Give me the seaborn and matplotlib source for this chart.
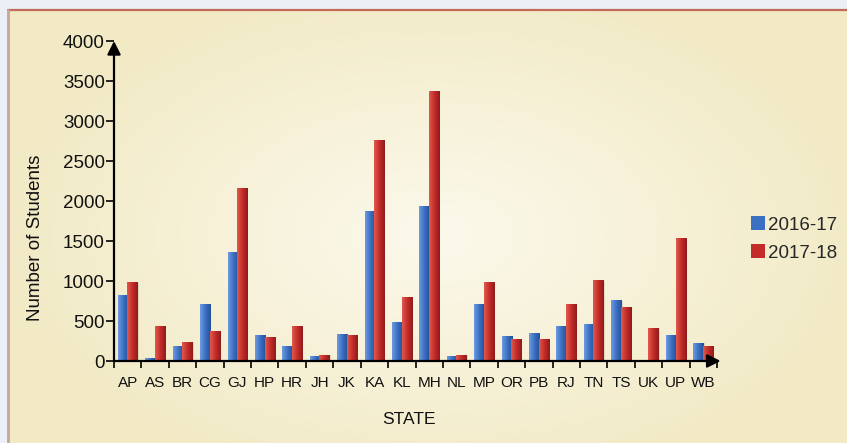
import numpy as np
import pandas as pd
import matplotlib
matplotlib.use("Agg")
import matplotlib.pyplot as plt
from matplotlib.colors import LinearSegmentedColormap
from matplotlib.patches import Patch, Rectangle
import seaborn as sns

# Students per state, two academic years
states = ["AP", "AS", "BR", "CG", "GJ", "HP", "HR", "JH", "JK", "KA", "KL",
          "MH", "NL", "MP", "OR", "PB", "RJ", "TN", "TS", "UK", "UP", "WB"]
students_2016_17 = [825, 35, 190, 710, 1360, 325, 190, 60, 340, 1870, 485,
                    1935, 60, 710, 310, 350, 440, 460, 760, 0, 325, 225]
students_2017_18 = [990, 440, 240, 375, 2160, 300, 440, 75, 325, 2760, 800,
                    3375, 75, 990, 275, 275, 710, 1010, 670, 410, 1535, 190]
years = ["2016-17", "2017-18"]
y_ticks = [0, 500, 1000, 1500, 2000, 2500, 3000, 3500, 4000]

df = pd.DataFrame({
    "STATE": states * 2,
    "Year": [years[0]] * len(states) + [years[1]] * len(states),
    "Students": students_2016_17 + students_2017_18,
})

sns.set_theme(style="white")
plt.rcParams["font.family"] = ["Liberation Sans", "DejaVu Sans"]

W, H = 847, 443
fig = plt.figure(figsize=(W / 100, H / 100), dpi=100)
fig.patch.set_facecolor("#eaf0f6")

# Cream panel with a soft radial glow
bg = fig.add_axes([0, 0, 1, 1], zorder=0)
bg.set_xlim(0, W)
bg.set_ylim(H, 0)
bg.axis("off")
yy, xx = np.mgrid[0:H, 0:W]
r = np.sqrt(((xx - 430) / 430.0) ** 2 + ((yy - 230) / 260.0) ** 2)
r = np.clip(r, 0, 1)
c_in = np.array([0.988, 0.976, 0.925])
c_out = np.array([0.949, 0.918, 0.776])
img = c_in[None, None, :] * (1 - r[..., None]) + c_out[None, None, :] * r[..., None]
bg.imshow(img, extent=(8, W, H, 10), aspect="auto", zorder=0)
bg.plot([8, W], [10, 10], color="#c46a58", lw=1.6, zorder=2)
bg.plot([8, 8], [10, H], color="#c9a49c", lw=2.0, zorder=2)

# Main bar axes
ax = fig.add_axes([114 / W, (H - 361) / H, 603 / W, 320 / H], zorder=1)
ax.patch.set_alpha(0)
palette = {years[0]: "#3b6fc2", years[1]: "#c42c2a"}
sns.barplot(data=df, x="STATE", y="Students", hue="Year", palette=palette,
            width=0.70, gap=-0.05, saturation=1, ax=ax, legend=False,
            edgecolor="none", linewidth=0)

# Cylinder-like horizontal shading on each bar
cmaps = {
    "b": LinearSegmentedColormap.from_list("b", ["#6d9be0", "#3b6fc2", "#24509a"]),
    "r": LinearSegmentedColormap.from_list("r", ["#e05a4c", "#c42c2a", "#8e1b1a"]),
}
grad = np.linspace(0, 1, 64)[None, :]
for p in list(ax.patches):
    x0, y0 = p.get_x(), p.get_y()
    w, h = p.get_width(), p.get_height()
    if h <= 0:
        continue
    fc = p.get_facecolor()
    key = "b" if fc[2] > fc[0] else "r"
    im = ax.imshow(grad, cmap=cmaps[key], aspect="auto",
                   extent=(x0, x0 + w, y0, y0 + h), zorder=p.get_zorder() + 0.1,
                   interpolation="bilinear")
    im.set_clip_path(p)
    ax.add_patch(Rectangle((x0 + w, y0), w * 0.12, h * 0.99, color="#7a6a50",
                           alpha=0.18, lw=0, zorder=p.get_zorder() - 0.1))

ax.set_xlim(-0.5, len(states) - 0.5)
ax.set_ylim(0, 4000)
ax.set_aspect("auto")
for s in ax.spines.values():
    s.set_visible(False)

ax.set_yticks(y_ticks)
ax.set_yticklabels([str(v) for v in y_ticks], fontsize=13.5, color="#111111")
ax.tick_params(axis="y", direction="out", length=6, width=1.2, color="black",
               pad=0.5, left=True)
ax.set_xticks(range(len(states)))
ax.set_xticklabels(states, fontsize=11, color="#111111")
ax.tick_params(axis="x", which="major", length=0, pad=11)
ax.set_xticks(np.arange(-0.5, len(states), 1.0), minor=True)
ax.tick_params(axis="x", which="minor", direction="out", length=5, width=1.2,
               color="black", bottom=True)
ax.set_xlabel("")
ax.set_ylabel("")

# Arrow-tipped axes
ax.annotate("", xy=(0, 1.0), xytext=(0, 0), xycoords="axes fraction",
            arrowprops=dict(arrowstyle="-|>", mutation_scale=20, lw=1.6,
                            color="black", shrinkA=0, shrinkB=0), zorder=5)
ax.annotate("", xy=(1.006, 0), xytext=(0, 0), xycoords="axes fraction",
            arrowprops=dict(arrowstyle="-|>", mutation_scale=20, lw=1.6,
                            color="black", shrinkA=0, shrinkB=0), zorder=5)

fig.text(36 / W, 1 - 238 / H, "Number of Students", rotation=90,
         ha="center", va="center", fontsize=13.5, color="#111111")
fig.text(409 / W, 1 - 419 / H, "STATE", ha="center", va="center",
         fontsize=12.5, color="#111111")

handles = [Patch(facecolor=palette[y], edgecolor="none") for y in years]
fig.legend(handles, years, loc="center left",
           bbox_to_anchor=(742 / W, 1 - 239 / H), frameon=False,
           fontsize=13.5, handlelength=0.75, handleheight=0.75,
           handletextpad=0.15, labelspacing=0.55, borderpad=0)

fig.savefig("out.png", dpi=100)
